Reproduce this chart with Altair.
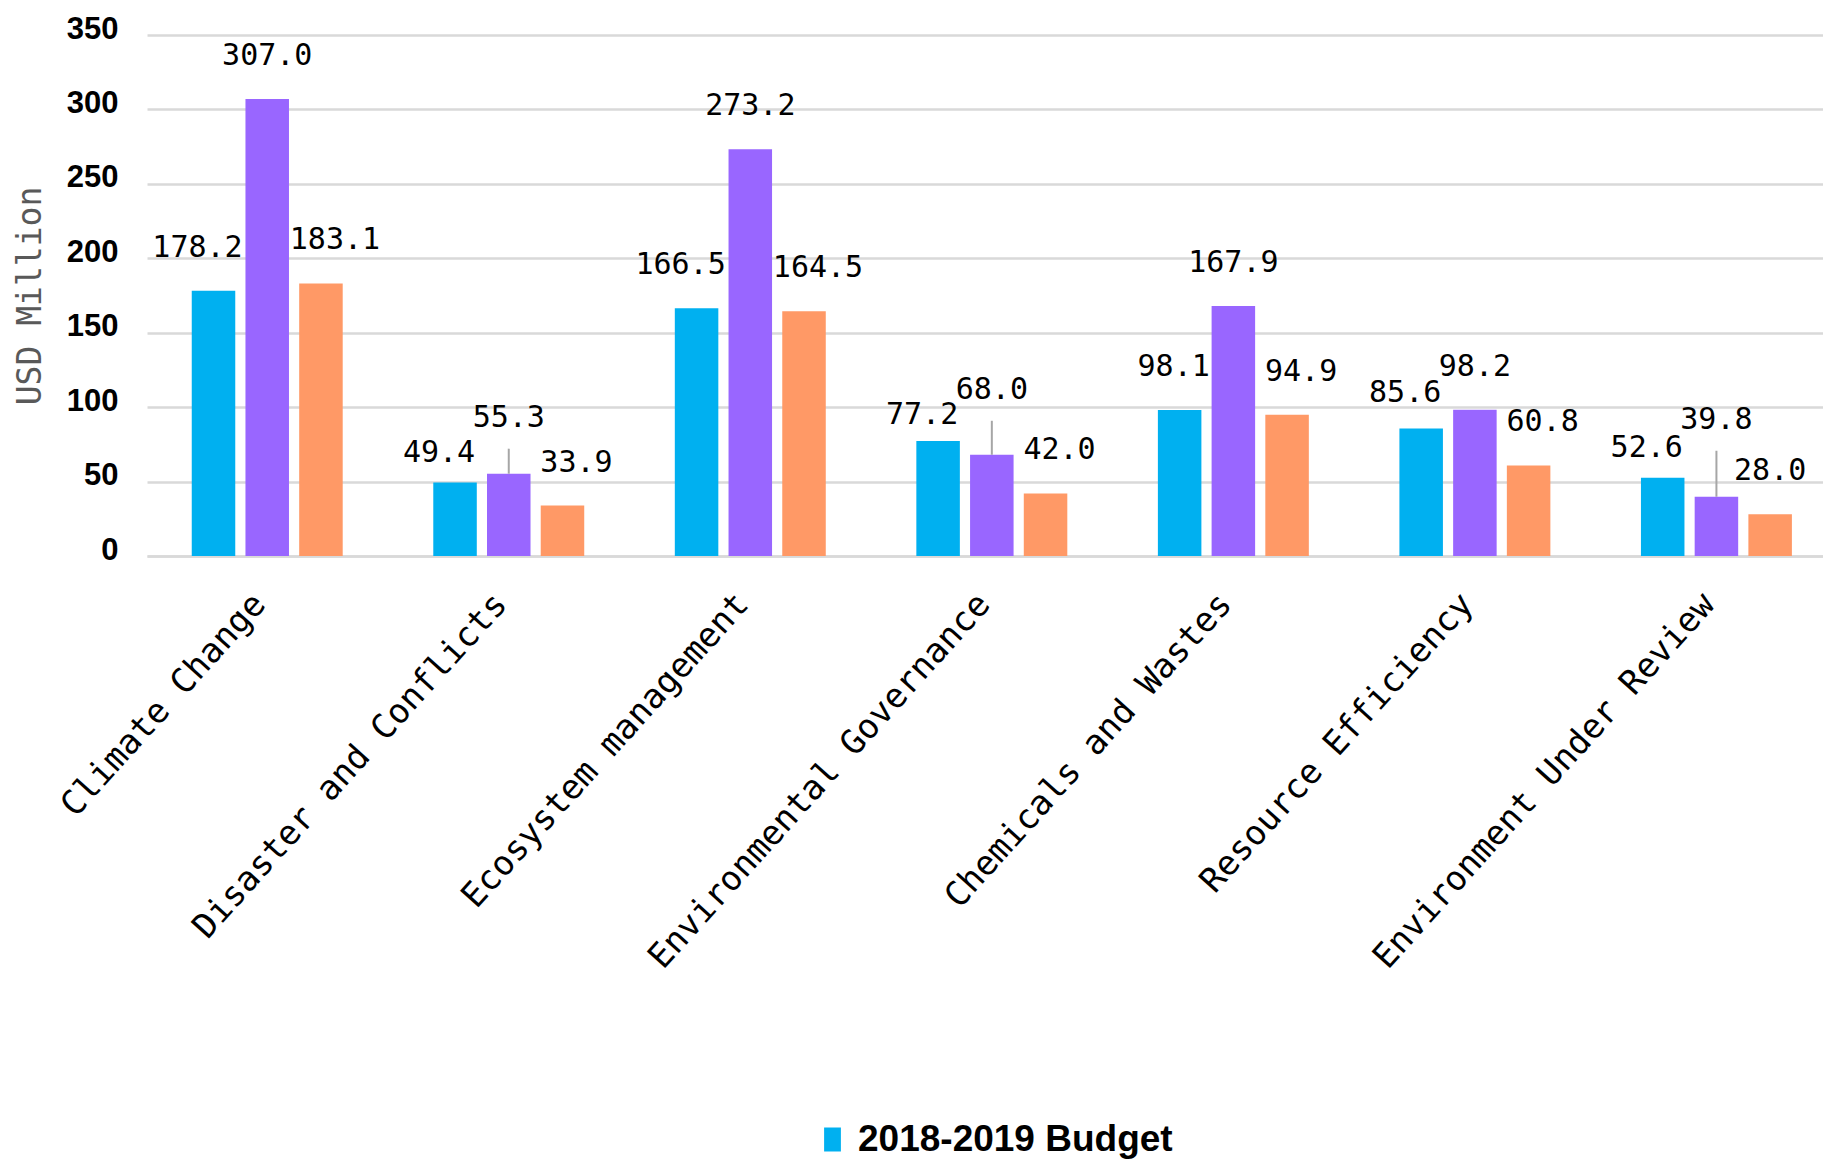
import altair as alt
import pandas as pd

categories = ["Climate Change", "Disaster and Conflicts", "Ecosystem management",
              "Environmental Governance", "Chemicals and Wastes", "Resource Efficiency",
              "Environment Under Review"]
series_names = ["2018-2019 Budget", "2018-2019 Expenditure", "2020-2021 Budget"]
budget_2018_2019 = [178.2, 49.4, 166.5, 77.2, 98.1, 85.6, 52.6]
expenditure_2018_2019 = [307.0, 55.3, 273.2, 68.0, 167.9, 98.2, 39.8]
budget_2020_2021 = [183.1, 33.9, 164.5, 42.0, 94.9, 60.8, 28.0]
y_ticks = [0, 50, 100, 150, 200, 250, 300, 350]

colors = ["#00B0F0", "#9966FF", "#FF9966"]

# ---- label placement (pixels), kept apart from the data ----
PLOT_W, PLOT_H = 1676, 521
Y_MAX = 350
px_per_unit = PLOT_H / Y_MAX
default_lift = 34
series_dx = [-16, 0, 14]
# (series index, category) -> (dx, lift) for labels nudged in the original
label_overrides = {
    (0, "Disaster and Conflicts"): (-16, 20),
    (0, "Environmental Governance"): (-16, 17),
    (0, "Chemicals and Wastes"): (-6, 34),
    (0, "Resource Efficiency"): (-16, 27),
    (0, "Environment Under Review"): (-16, 21),
    (1, "Disaster and Conflicts"): (0, 47),
    (1, "Environmental Governance"): (0, 56),
    (1, "Environment Under Review"): (0, 68),
    (2, "Environment Under Review"): (0, 34),
}
leader_labels = [(1, "Disaster and Conflicts"), (1, "Environmental Governance"),
                 (1, "Environment Under Review")]
leader_gap = 22

rows = []
for si, (s, vals) in enumerate(zip(series_names,
                                   [budget_2018_2019, expenditure_2018_2019, budget_2020_2021])):
    for c, v in zip(categories, vals):
        dx, lift = label_overrides.get((si, c), (series_dx[si], default_lift))
        leader = (si, c) in leader_labels
        rows.append(dict(category=c, series=s, value=v, label=f"{v:.1f}",
                         dx=dx,
                         label_y=v + lift / px_per_unit,
                         leader=leader,
                         leader_top=v + (lift - leader_gap) / px_per_unit))
df = pd.DataFrame(rows)

MONO = "DejaVu Sans Mono"
SANS = "Liberation Sans"

x_enc = alt.X("category:N", sort=categories,
              scale=alt.Scale(paddingInner=0.375, paddingOuter=0.157, align=0.59),
              axis=alt.Axis(title=None, labelAngle=312, labelAlign="right",
                            labelBaseline="alphabetic",
                            labelFont=MONO, labelFontSize=34, labelColor="black",
                            labelPadding=49, labelLimit=1000, ticks=False,
                            domainColor="#D9D9D9", domainWidth=2.5, grid=False))
xoff_enc = alt.XOffset("series:N", sort=series_names,
                       scale=alt.Scale(paddingInner=0.19, paddingOuter=0))
y_axis = alt.Axis(values=y_ticks, title="USD Million", grid=True, gridColor="#D9D9D9",
                  gridWidth=2.5, domain=False, ticks=False,
                  labelFont=SANS, labelFontSize=31, labelFontWeight="bold",
                  labelColor="black", labelPadding=29, labelOffset=-6,
                  titleFont=MONO, titleFontSize=33, titleFontWeight="normal",
                  titleColor="#595959", titleAngle=270, titleX=-117, titleY=PLOT_H / 2,
                  titleAlign="center", titleBaseline="middle")
y_scale = alt.Scale(domain=[0, Y_MAX], nice=False)

base = alt.Chart(df)

bars = base.mark_bar().encode(
    x=x_enc,
    xOffset=xoff_enc,
    y=alt.Y("value:Q", scale=y_scale, axis=y_axis),
    color=alt.Color("series:N", sort=series_names,
                    scale=alt.Scale(domain=series_names, range=colors),
                    legend=alt.Legend(title=None, orient="none", legendX=667, legendY=1086,
                                      values=[series_names[0]],
                                      direction="vertical", labelFont=SANS, labelFontSize=37,
                                      labelFontWeight="bold",
                                      labelColor="black", labelLimit=1000, labelOffset=7,
                                      symbolType="M-0.7,-1H0.7V1H-0.7Z", symbolSize=576,
                                      symbolStrokeWidth=0)),
)

leaders = base.mark_rule(color="#A6A6A6", strokeWidth=2).encode(
    x=x_enc,
    xOffset=xoff_enc,
    y=alt.Y("value:Q", scale=y_scale, axis=y_axis),
    y2="leader_top:Q",
).transform_filter(alt.datum.leader)

label_layers = []
for dx in sorted(df["dx"].unique()):
    label_layers.append(
        base.mark_text(dx=int(dx), baseline="alphabetic", align="center", font=MONO,
                       fontSize=30, color="black").encode(
            x=x_enc,
            xOffset=xoff_enc,
            y=alt.Y("label_y:Q", scale=y_scale, axis=y_axis),
            text="label:N",
        ).transform_filter(alt.datum.dx == int(dx))
    )

chart = alt.layer(bars, leaders, *label_layers).properties(
    width=PLOT_W, height=PLOT_H,
    autosize=alt.AutoSizeParams(type="none"),
    padding={"left": 139, "top": 27, "right": 0, "bottom": 603},
    background="white",
).configure_view(stroke=None)

chart.save("out.html", embed_options={"renderer": "svg", "actions": False})
